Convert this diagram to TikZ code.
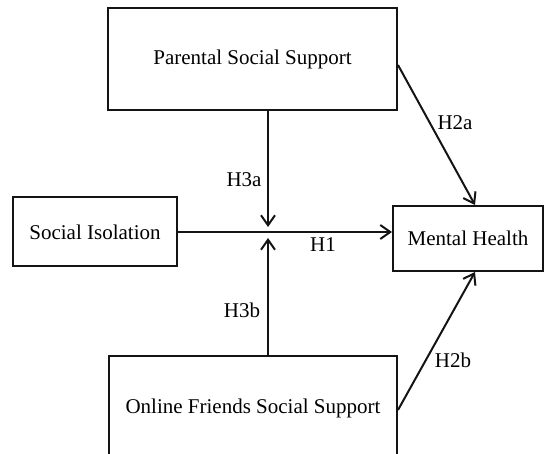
\documentclass[tikz,border=0pt]{standalone}
\usepackage{fontspec}
\setmainfont{Liberation Serif}
\usepackage{tikz}
\usetikzlibrary{positioning,arrows.meta,calc}
\definecolor{LineBlack}{RGB}{20,20,20}

\begin{document}
\begin{tikzpicture}[
    x=1pt, y=-1pt,
    block/.style={rectangle, draw=LineBlack, line width=2pt, fill=white,
        inner sep=0pt, font=\fontsize{21}{25}\selectfont, text=black},
    link/.style={line width=2pt, draw=LineBlack},
    hyp/.style={font=\fontsize{21}{25}\selectfont, inner sep=0pt, text=black},
]
\useasboundingbox (0,0) rectangle (544,454);

\node[block, minimum width=289pt, minimum height=102pt] (pss) at (252.5,59) {Parental Social Support};
\node[block, minimum width=164pt, minimum height=69pt] (si) at (95,232) {Social Isolation};
\node[block, minimum width=150pt, minimum height=65pt] (mh) at (468,238.5) {Mental Health};
\node[block, minimum width=288pt, minimum height=104pt] (ofss) at (253,408) {Online Friends Social Support};

\coordinate (jtop) at (268,227);
\coordinate (jbot) at (268,238);

\draw[link, -{Straight Barb[length=10pt, width=14pt]}] (si.east) -- (si.east -| mh.west);
\draw[link, -{Straight Barb[length=10pt, width=14pt]}] (pss.south -| jtop) -- (jtop);
\draw[link, -{Straight Barb[length=10pt, width=14pt]}] (ofss.north -| jbot) -- (jbot);
\draw[link, -{Straight Barb[length=10pt, width=14pt]}] ([yshift=-6pt]pss.east) -- ([xshift=7pt]mh.north);
\draw[link, -{Straight Barb[length=10pt, width=14pt]}] ([yshift=-2pt]ofss.east) -- ([xshift=7pt]mh.south);

\node[hyp] (h1) at (323,245) {H1};
\node[hyp] (h2a) at (455,123) {H2a};
\node[hyp] (h2b) at (453,360) {H2b};
\node[hyp] (h3a) at (244,180) {H3a};
\node[hyp] (h3b) at (242,310) {H3b};
\end{tikzpicture}
\end{document}
